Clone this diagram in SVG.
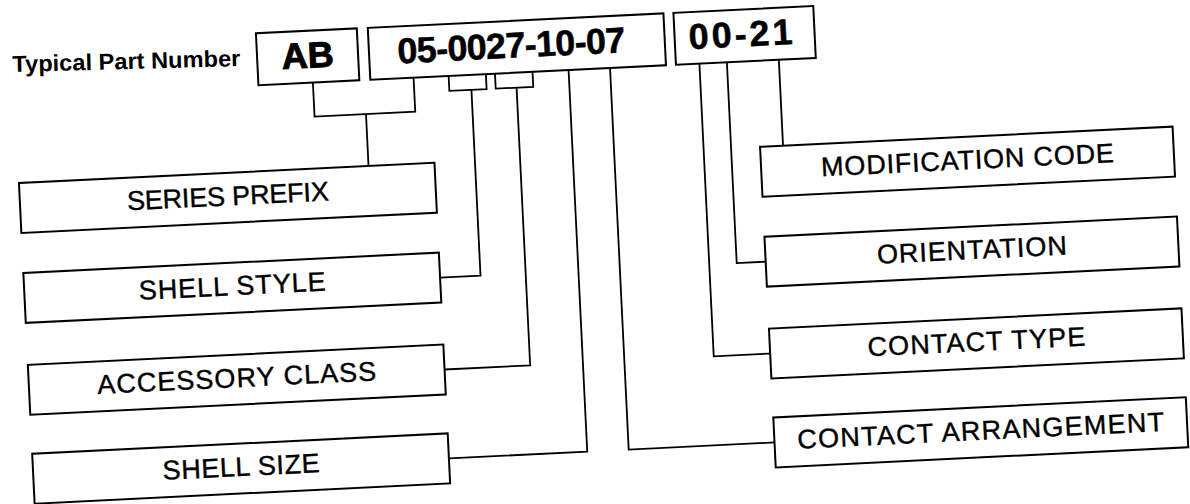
<svg xmlns="http://www.w3.org/2000/svg" width="1190" height="504" viewBox="0 0 1190 504">
<style>
.box{fill:#fff;stroke:#000;stroke-width:2}
.conn{fill:none;stroke:#000;stroke-width:1.8}
.lbl{font-family:'Liberation Sans',Arial,sans-serif;font-size:27px;text-anchor:middle;fill:#000;stroke:#000;stroke-width:0.4}
.big{font-family:'Liberation Sans Narrow','Liberation Sans',Arial,sans-serif;font-weight:bold;font-size:36px;text-anchor:middle;fill:#000;stroke:#000;stroke-width:0.5}
.ab{font-family:'Liberation Sans',Arial,sans-serif;font-weight:bold;font-size:36px;text-anchor:middle;fill:#000;stroke:#000;stroke-width:1}
.title{font-family:'Liberation Sans',Arial,sans-serif;font-weight:bold;font-size:23px;fill:#000}
</style>
<rect x="0" y="0" width="1190" height="504" fill="#fff"/>
<g transform="rotate(-2.8 595 252)">
  <g id="connectors" class="conn">
    <path d="M321.5,69 V103 H422.3 V69"/>
    <path d="M373,103 V155"/>
    <path d="M457.4,69 V84 H494.7 V69"/>
    <path d="M479.5,84 V270 H439"/>
    <path d="M503.8,69 V84 H541.4 V69"/>
    <path d="M524.7,84 V362 H439"/>
    <path d="M577.5,69 V451 H439"/>
    <path d="M619,69 V451 H765"/>
    <path d="M708.5,69 V362 H765"/>
    <path d="M736,69 V270 H765"/>
    <path d="M788,69 V155"/>
  </g>
  <g id="title" transform="rotate(1.3 250 49)">
    <text class="title" x="22" y="49" textLength="228" lengthAdjust="spacingAndGlyphs">Typical Part Number</text>
  </g>
  <g id="node-ab">
    <rect class="box" x="267" y="17" width="101" height="52"/>
    <text class="ab" x="317.5" y="54">AB</text>
  </g>
  <g id="node-number">
    <rect class="box" x="379" y="17" width="296" height="52"/>
    <text class="big" x="521.5" y="54" textLength="228" lengthAdjust="spacing">05-0027-10-07</text>
  </g>
  <g id="node-suffix">
    <rect class="box" x="685" y="17" width="140" height="52"/>
    <text class="big" x="751" y="54" textLength="104" lengthAdjust="spacing">00-21</text>
  </g>
  <g id="node-series-prefix">
    <rect class="box" x="23" y="155" width="416" height="50"/>
    <text class="lbl" x="231" y="187.5" textLength="202" lengthAdjust="spacing">SERIES PREFIX</text>
  </g>
  <g id="node-shell-style">
    <rect class="box" x="23" y="245" width="416" height="50"/>
    <text class="lbl" x="231" y="277.5" textLength="187" lengthAdjust="spacing">SHELL STYLE</text>
  </g>
  <g id="node-accessory-class">
    <rect class="box" x="23" y="337" width="416" height="50"/>
    <text class="lbl" x="231" y="369.5" textLength="279" lengthAdjust="spacing">ACCESSORY CLASS</text>
  </g>
  <g id="node-shell-size">
    <rect class="box" x="23" y="426" width="416" height="50"/>
    <text class="lbl" x="231" y="458.5" textLength="157" lengthAdjust="spacing">SHELL SIZE</text>
  </g>
  <g id="node-modification-code">
    <rect class="box" x="765" y="155" width="413" height="50"/>
    <text class="lbl" x="971.5" y="187.5" textLength="293" lengthAdjust="spacing">MODIFICATION CODE</text>
  </g>
  <g id="node-orientation">
    <rect class="box" x="765" y="245" width="413" height="50"/>
    <text class="lbl" x="971.5" y="277.5" textLength="190" lengthAdjust="spacing">ORIENTATION</text>
  </g>
  <g id="node-contact-type">
    <rect class="box" x="765" y="337" width="413" height="50"/>
    <text class="lbl" x="971.5" y="369.5" textLength="218" lengthAdjust="spacing">CONTACT TYPE</text>
  </g>
  <g id="node-contact-arrangement">
    <rect class="box" x="765" y="426" width="413" height="50"/>
    <text class="lbl" x="971.5" y="458.5" textLength="367" lengthAdjust="spacing">CONTACT ARRANGEMENT</text>
  </g>
</g>
</svg>
